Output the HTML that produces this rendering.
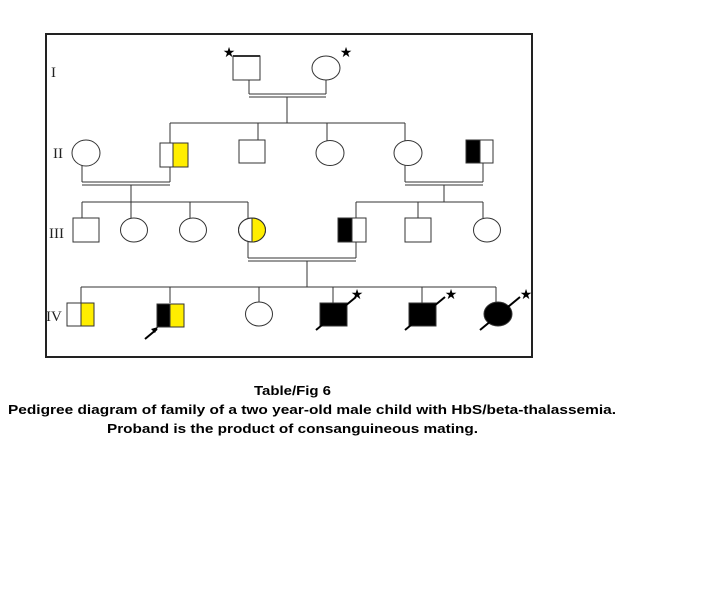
<!DOCTYPE html>
<html><head><style>body{margin:0;background:#fff}svg{display:block}</style></head><body>
<svg width="719" height="611" viewBox="0 0 719 611" xmlns="http://www.w3.org/2000/svg">
<rect x="0" y="0" width="719" height="611" fill="#fff"/>
<rect x="46" y="34" width="486" height="323" fill="none" stroke="#222" stroke-width="2"/>
<g font-family="Liberation Serif, serif" font-size="15" fill="#222">
<text x="51" y="77">I</text><text x="53" y="158">II</text><text x="49" y="238">III</text><text x="46" y="321">IV</text>
</g>
<g stroke="#333" stroke-width="1" fill="none">
<line x1="249" y1="80" x2="249" y2="94"/><line x1="326" y1="80" x2="326" y2="94"/>
<line x1="249" y1="94" x2="326" y2="94"/><line x1="249" y1="97" x2="326" y2="97"/>
<line x1="287" y1="97" x2="287" y2="123"/>
<line x1="170" y1="123" x2="405" y2="123"/>
<line x1="170" y1="123" x2="170" y2="143"/><line x1="258" y1="123" x2="258" y2="140"/>
<line x1="327" y1="123" x2="327" y2="141"/><line x1="405" y1="123" x2="405" y2="141"/>
<line x1="82" y1="165" x2="82" y2="182"/><line x1="170" y1="167" x2="170" y2="182"/>
<line x1="82" y1="182" x2="170" y2="182"/><line x1="82" y1="185" x2="170" y2="185"/>
<line x1="131" y1="185" x2="131" y2="202"/>
<line x1="405" y1="165" x2="405" y2="182"/><line x1="483" y1="163" x2="483" y2="182"/>
<line x1="405" y1="182" x2="483" y2="182"/><line x1="405" y1="185" x2="483" y2="185"/>
<line x1="444" y1="185" x2="444" y2="202"/>
<line x1="82" y1="202" x2="248" y2="202"/>
<line x1="82" y1="202" x2="82" y2="218"/><line x1="131" y1="202" x2="131" y2="218"/>
<line x1="190" y1="202" x2="190" y2="218"/><line x1="248" y1="202" x2="248" y2="218"/>
<line x1="356" y1="202" x2="483" y2="202"/>
<line x1="356" y1="202" x2="356" y2="218"/><line x1="418" y1="202" x2="418" y2="218"/>
<line x1="483" y1="202" x2="483" y2="218"/>
<line x1="248" y1="242" x2="248" y2="258"/><line x1="356" y1="242" x2="356" y2="258"/>
<line x1="248" y1="258" x2="356" y2="258"/><line x1="248" y1="261" x2="356" y2="261"/>
<line x1="307" y1="261" x2="307" y2="287"/>
<line x1="81" y1="287" x2="496" y2="287"/>
<line x1="81" y1="287" x2="81" y2="303"/><line x1="170" y1="287" x2="170" y2="303"/>
<line x1="259" y1="287" x2="259" y2="302"/><line x1="333" y1="287" x2="333" y2="303"/>
<line x1="422" y1="287" x2="422" y2="303"/><line x1="496" y1="287" x2="496" y2="302"/>
</g>
<g stroke="#333" stroke-width="1">
<rect x="233" y="56" width="27" height="24" fill="#fff"/>
<line x1="233" y1="56" x2="260" y2="56" stroke-width="2"/>
<ellipse cx="326" cy="68" rx="14" ry="12" fill="#fff"/>
<ellipse cx="86" cy="153" rx="14" ry="13" fill="#fff"/>
<rect x="160" y="143" width="13" height="24" fill="#fff"/>
<rect x="173" y="143" width="15" height="24" fill="#ffee00"/>
<rect x="239" y="140" width="26" height="23" fill="#fff"/>
<ellipse cx="330" cy="153" rx="14" ry="12.5" fill="#fff"/>
<ellipse cx="408" cy="153" rx="14" ry="12.5" fill="#fff"/>
<rect x="466" y="140" width="14" height="23" fill="#000"/>
<rect x="480" y="140" width="13" height="23" fill="#fff"/>
<rect x="73" y="218" width="26" height="24" fill="#fff"/>
<ellipse cx="134" cy="230" rx="13.5" ry="12" fill="#fff"/>
<ellipse cx="193" cy="230" rx="13.5" ry="12" fill="#fff"/>
<path d="M252 218 A13.5 12 0 0 0 252 242 Z" fill="#fff"/>
<path d="M252 218 A13.5 12 0 0 1 252 242 Z" fill="#ffee00"/>
<ellipse cx="252" cy="230" rx="13.5" ry="12" fill="none"/>
<rect x="338" y="218" width="14" height="24" fill="#000"/>
<rect x="352" y="218" width="14" height="24" fill="#fff"/>
<rect x="405" y="218" width="26" height="24" fill="#fff"/>
<ellipse cx="487" cy="230" rx="13.5" ry="12" fill="#fff"/>
<rect x="67" y="303" width="14" height="23" fill="#fff"/>
<rect x="81" y="303" width="13" height="23" fill="#ffee00"/>
<rect x="157" y="304" width="13" height="23" fill="#000"/>
<rect x="170" y="304" width="14" height="23" fill="#ffee00"/>
<ellipse cx="259" cy="314" rx="13.5" ry="12" fill="#fff"/>
<rect x="320" y="303" width="27" height="23" fill="#000"/>
<rect x="409" y="303" width="27" height="23" fill="#000"/>
<ellipse cx="498" cy="314" rx="14" ry="12" fill="#000"/>
</g>
<g stroke="#000" stroke-width="2">
<line x1="145" y1="339" x2="157" y2="329"/>
<line x1="316" y1="330" x2="356" y2="297"/>
<line x1="405" y1="330" x2="445" y2="297"/>
<line x1="480" y1="330" x2="520" y2="297"/>
</g>
<polygon points="158,327 151,329 155,333" fill="#000"/>
<g font-family="DejaVu Sans, sans-serif" font-size="14" fill="#000" text-anchor="middle">
<text x="229" y="57">★</text><text x="346" y="57">★</text>
<text x="357" y="299">★</text><text x="451" y="299">★</text><text x="526" y="299">★</text>
</g>
<g font-family="Liberation Sans, sans-serif" font-weight="bold" font-size="13" fill="#000">
<text x="254" y="395" textLength="77" lengthAdjust="spacingAndGlyphs">Table/Fig 6</text>
<text x="8" y="414" textLength="608" lengthAdjust="spacingAndGlyphs">Pedigree diagram of family of a two year-old male child with HbS/beta-thalassemia.</text>
<text x="107" y="433" textLength="371" lengthAdjust="spacingAndGlyphs">Proband is the product of consanguineous mating.</text>
</g>
</svg>
</body></html>
